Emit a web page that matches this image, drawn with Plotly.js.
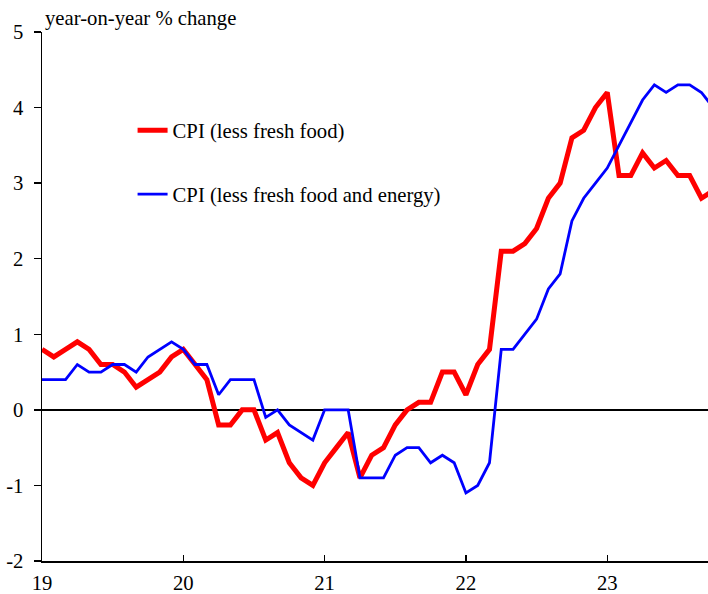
<!DOCTYPE html>
<html>
<head>
<meta charset="utf-8">
<script src="https://cdn.plot.ly/plotly-3.0.1.min.js"></script>
<style>html,body{margin:0;padding:0;background:#fff;}#chart{width:708px;height:594px;}</style>
</head>
<body>
<div id="chart"></div>
<script>
// Monthly data, Jan 2019 .. Oct 2023 (year-on-year % change)
const startYear = 2019;
const yearTickVals = [2019, 2020, 2021, 2022, 2023];
const yearTickText = ["19", "20", "21", "22", "23"];
const yTickVals = [-2, -1, 0, 1, 2, 3, 4, 5];
const yTickText = ["-2", "-1", "0", "1", "2", "3", "4", "5"];
const coreCPI = [
  0.8, 0.7, 0.8, 0.9, 0.8, 0.6, 0.6, 0.5, 0.3, 0.4, 0.5, 0.7,
  0.8, 0.6, 0.4, -0.2, -0.2, 0.0, 0.0, -0.4, -0.3, -0.7, -0.9, -1.0,
  -0.7, -0.5, -0.3, -0.9, -0.6, -0.5, -0.2, 0.0, 0.1, 0.1, 0.5, 0.5,
  0.2, 0.6, 0.8, 2.1, 2.1, 2.2, 2.4, 2.8, 3.0, 3.6, 3.7, 4.0,
  4.2, 3.1, 3.1, 3.4, 3.2, 3.3, 3.1, 3.1, 2.8, 2.9
];
const coreCoreCPI = [
  0.4, 0.4, 0.4, 0.6, 0.5, 0.5, 0.6, 0.6, 0.5, 0.7, 0.8, 0.9,
  0.8, 0.6, 0.6, 0.2, 0.4, 0.4, 0.4, -0.1, 0.0, -0.2, -0.3, -0.4,
  0.0, 0.0, 0.0, -0.9, -0.9, -0.9, -0.6, -0.5, -0.5, -0.7, -0.6, -0.7,
  -1.1, -1.0, -0.7, 0.8, 0.8, 1.0, 1.2, 1.6, 1.8, 2.5, 2.8, 3.0,
  3.2, 3.5, 3.8, 4.1, 4.3, 4.2, 4.3, 4.3, 4.2, 4.0
];
const seriesNames = ["CPI (less fresh food)", "CPI (less fresh food and energy)"];

// month positions on a year scale
const months = coreCPI.map((_, i) => startYear + i / 12);

const font = "Liberation Serif, Times New Roman, serif";
const fs = 20.7;

const traces = [
  {x: months, y: coreCPI, type: "scatter", mode: "lines", name: seriesNames[0],
   line: {color: "#ff0000", width: 5}, legendgroup: "a"},
  {x: months, y: coreCoreCPI, type: "scatter", mode: "lines", name: seriesNames[1],
   line: {color: "#0000ff", width: 2.8}, legendgroup: "b"}
];

const layout = {
  width: 708, height: 594,
  margin: {l: 42, r: 0, t: 32, b: 33},
  paper_bgcolor: "#fff", plot_bgcolor: "#fff",
  font: {family: font, size: fs, color: "#000"},
  showlegend: true,
  legend: {x: 0.136, y: 0.852, xanchor: "left", yanchor: "top",
           bgcolor: "rgba(0,0,0,0)", tracegroupgap: 34,
           font: {family: font, size: fs, color: "#000"}},
  xaxis: {range: [2019, 2023.713], showgrid: false, zeroline: false,
          showline: true, linecolor: "#000", linewidth: 1.5,
          ticks: "inside", ticklen: 6, tickwidth: 1.5, tickcolor: "#000",
          ticklabelstandoff: 3,
          tickvals: yearTickVals, ticktext: yearTickText,
          tickfont: {family: font, size: fs}},
  yaxis: {range: [-2, 5], showgrid: false, zeroline: true,
          zerolinecolor: "#000", zerolinewidth: 1.5,
          showline: true, linecolor: "#000", linewidth: 1.5,
          ticks: "outside", ticklen: 7, tickwidth: 1.5, tickcolor: "#000",
          ticklabelstandoff: 6,
          tickvals: yTickVals, ticktext: yTickText,
          tickfont: {family: font, size: fs}},
  annotations: [
    {text: "year-on-year % change", xref: "paper", yref: "paper",
     x: 0, y: 1, xanchor: "left", yanchor: "bottom", xshift: 1, yshift: 0,
     showarrow: false, font: {family: font, size: fs, color: "#000"}}
  ]
};

Plotly.newPlot("chart", traces, layout, {displayModeBar: false, staticPlot: true});
</script>
</body>
</html>
